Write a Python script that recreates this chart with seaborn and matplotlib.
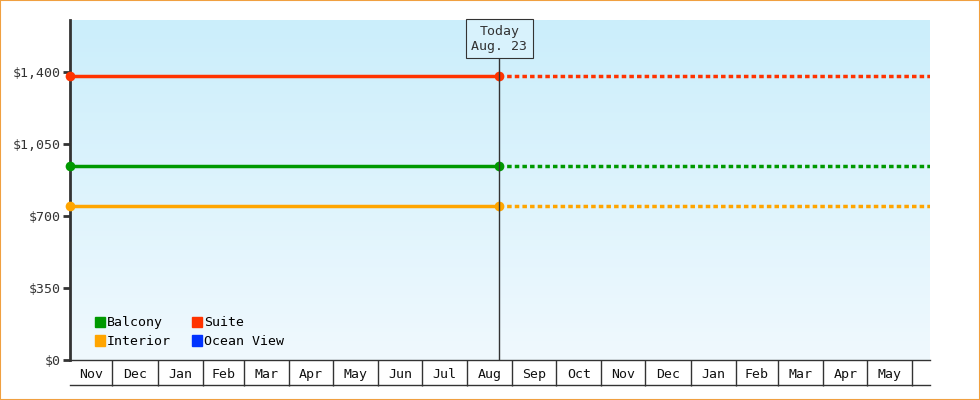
import matplotlib
matplotlib.use("Agg")
import matplotlib.pyplot as plt
import seaborn as sns
import pandas as pd
import numpy as np
from matplotlib.patches import Rectangle, Patch
from matplotlib.transforms import blended_transform_factory
from matplotlib.colors import LinearSegmentedColormap

series = ["Balcony", "Suite", "Interior", "Ocean View"]
prices = [940, 1380, 745, None]
colors = ["#009900", "#ff3300", "#ffa500", "#0033ff"]
start_date = "2022-11-02"
today_date = "2023-08-23"
end_date = "2024-06-13"
month_labels = ["Nov", "Dec", "Jan", "Feb", "Mar", "Apr", "May", "Jun", "Jul", "Aug",
                "Sep", "Oct", "Nov", "Dec", "Jan", "Feb", "Mar", "Apr", "May"]
y_ticks = [0, 350, 700, 1050, 1400]
y_labels = ["$0", "$350", "$700", "$1,050", "$1,400"]

font = "DejaVu Sans Mono"
plt.rcParams["font.family"] = font
base = pd.Timestamp("2022-11-01")
def d(s):
    return (pd.Timestamp(s) - base).days

fig = plt.figure(figsize=(9.8, 4), dpi=100)
fig.patches.append(Rectangle((0, 0), 1, 1, transform=fig.transFigure, fill=False,
                             edgecolor="#f0a040", linewidth=1.5))
ax = fig.add_axes([70/980, 40/400, 860/980, 340/400])
x0, xt, x1 = d(start_date), d(today_date), d(end_date)
ax.set_xlim(x0, x1)
ax.set_ylim(0, 1650)

grad = np.linspace(1, 0, 256).reshape(-1, 1)
cmap = LinearSegmentedColormap.from_list("g", ["#f0f9fe", "#cbeefb"])
ax.imshow(grad, extent=[0, 1, 0, 1], transform=ax.transAxes, cmap=cmap, aspect="auto", zorder=0)

for name, p, c in zip(series, prices, colors):
    if p is None:
        continue
    solid = pd.DataFrame({"x": [x0, xt], "y": [p, p]})
    dotted = pd.DataFrame({"x": [xt, x1], "y": [p, p]})
    sns.lineplot(data=solid, x="x", y="y", color=c, lw=2.5, marker="o", markersize=7,
                 markeredgewidth=0, ax=ax, clip_on=False, zorder=3)
    sns.lineplot(data=dotted, x="x", y="y", color=c, lw=2.5, linestyle=(0, (1.3, 0.9)),
                 ax=ax, zorder=2)

ax.axvline(xt, color="#333333", lw=1, zorder=4)
ax.text(xt, 1560, "Today\nAug. 23", ha="center", va="center", fontsize=9.5, color="#333333",
        bbox=dict(boxstyle="square,pad=0.4", fc="#d8f2fc", ec="#333333", lw=0.8), zorder=5)

ax.set_yticks(y_ticks)
ax.set_yticklabels(y_labels, fontsize=9.5, color="#333333")
ax.tick_params(axis="y", length=5, width=2, color="#333333", pad=2)

bounds = pd.date_range("2022-11-01", "2024-06-01", freq="MS")
bx = [(b - base).days for b in bounds]
ax.set_xticks(bx[1:20])
ax.set_xticklabels([])
ax.tick_params(axis="x", which="major", length=18.5, width=1, color="#333333")
mids = [(bx[i] + bx[i+1]) / 2 for i in range(19)]
mids[0] = (x0 + bx[1]) / 2
ax.set_xticks(mids, minor=True)
ax.set_xticklabels(month_labels, minor=True, fontsize=9.5, color="#111111")
ax.tick_params(axis="x", which="minor", length=0, pad=6)
ax.set_xlabel(""); ax.set_ylabel("")

tr = blended_transform_factory(ax.transData, ax.transAxes)
ax.plot([x0, x1], [-25/340, -25/340], transform=tr, color="#333333", lw=1, clip_on=False)

for s in ["top", "right"]:
    ax.spines[s].set_visible(False)
ax.spines["left"].set_linewidth(2); ax.spines["left"].set_color("#333333")
ax.spines["bottom"].set_linewidth(1); ax.spines["bottom"].set_color("#333333")

order = [0, 2, 1, 3]
handles = [Patch(color=colors[i], label=series[i]) for i in order]
ax.legend(handles=handles, ncol=2, loc="lower left", bbox_to_anchor=(0.015, 0.0), frameon=False,
          fontsize=9.5, handlelength=0.8, handleheight=0.8, handletextpad=0.1,
          columnspacing=1.6, labelspacing=0.45, prop={"family": font, "size": 9.5})

fig.savefig("out.png", dpi=100)
